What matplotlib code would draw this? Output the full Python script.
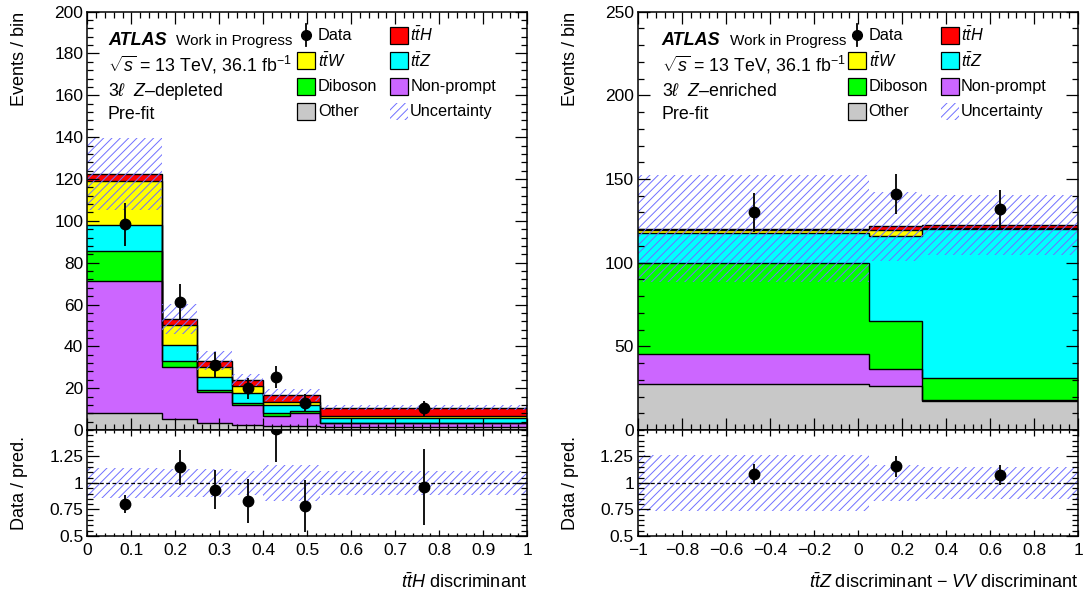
import matplotlib
matplotlib.use('Agg')
import matplotlib.pyplot as plt
import numpy as np
from matplotlib.patches import Rectangle
from matplotlib.ticker import MultipleLocator, FuncFormatter

plt.rcParams['font.family'] = ['Liberation Sans', 'DejaVu Sans']
plt.rcParams['mathtext.fontset'] = 'custom'
plt.rcParams['mathtext.rm'] = 'Liberation Sans'
plt.rcParams['mathtext.it'] = 'Liberation Sans:italic'
plt.rcParams['mathtext.bf'] = 'Liberation Sans:bold'
plt.rcParams['hatch.linewidth'] = 0.7

# 3l Z-depleted region (left)
edges_dep = [0, 0.17, 0.25, 0.33, 0.40, 0.46, 0.53, 1.0]
other_dep = [8.3, 5.1, 3.2, 2.4, 1.9, 1.9, 1.4]
nonprompt_dep = [63.0, 24.9, 15.1, 9.6, 4.8, 6.4, 1.8]
diboson_dep = [14.4, 3.2, 0.8, 1.1, 1.2, 0.8, 0.3]
ttz_dep = [12.1, 7.5, 6.1, 4.8, 4.1, 2.9, 2.4]
ttw_dep = [21.4, 9.3, 4.8, 3.3, 1.6, 1.6, 1.0]
tth_dep = [3.2, 3.2, 3.2, 2.8, 3.1, 3.1, 3.8]
unc_dep = [17.3, 7.2, 4.5, 2.8, 2.9, 2.9, 1.2]
data_dep = [98.4, 61.2, 31.1, 20.0, 25.2, 13.1, 10.3]
data_err_dep = [10.2, 8.8, 6.1, 5.0, 5.2, 4.1, 3.8]

# 3l Z-enriched region (right)
edges_enr = [-1, 0.05, 0.29, 1.0]
other_enr = [27.6, 26.2, 17.5]
nonprompt_enr = [17.7, 10.0, 0.2]
diboson_enr = [54.3, 28.8, 13.3]
ttz_enr = [18.1, 51.1, 89.3]
ttw_enr = [1.6, 3.2, 0.6]
tth_enr = [1.0, 2.4, 1.6]
unc_enr = [32.0, 20.5, 18.0]
data_enr = [130.0, 141.0, 132.0]
data_err_enr = [11.4, 12.2, 11.5]

c_other = '#c8c8c8'
c_np = '#cc66ff'
c_dib = '#00ff00'
c_ttz = '#00ffff'
c_ttw = '#ffff00'
c_tth = '#ff0000'
c_unc = '#7070ff'
plt.rcParams['hatch.color'] = c_unc


def fmt_tick(v, pos):
    s = '%g' % round(v, 3)
    return s.replace('-', '\u2212')


def style_axes(ax, xmaj, ymaj, xlen):
    ax.set_axisbelow(False)
    ax.xaxis.set_major_locator(MultipleLocator(xmaj))
    ax.xaxis.set_minor_locator(MultipleLocator(xmaj / 5))
    ax.yaxis.set_major_locator(MultipleLocator(ymaj))
    ax.yaxis.set_minor_locator(MultipleLocator(ymaj / 5))
    ax.tick_params(which='both', direction='in', top=True, right=True,
                   labelsize=12.5, width=0.9)
    ax.tick_params(axis='y', which='major', length=8.5, pad=3)
    ax.tick_params(axis='y', which='minor', length=4.5)
    ax.tick_params(axis='x', which='major', length=xlen, pad=5)
    ax.tick_params(axis='x', which='minor', length=xlen / 2)
    for sp in ax.spines.values():
        sp.set_linewidth(1.1)


def draw_legend(ax, x0):
    rows = [0.944, 0.883, 0.822, 0.762]
    bw, bh = 0.041, 0.041
    # data entry
    ax.plot([0.497], [rows[0]], 'o', color='k', ms=7, transform=ax.transAxes, clip_on=False)
    ax.plot([0.497, 0.497], [rows[0] - 0.026, rows[0] + 0.026], color='k', lw=1.3,
            transform=ax.transAxes, clip_on=False)
    ax.text(0.524, rows[0], 'Data', transform=ax.transAxes, va='center', size=11.7)
    col1 = [(r'$t\bar{t}W$', c_ttw), ('Diboson', c_dib), ('Other', c_other)]
    col2 = [(r'$t\bar{t}H$', c_tth), (r'$t\bar{t}Z$', c_ttz), ('Non-prompt', c_np)]
    for (lab, col), y in zip(col1, rows[1:]):
        ax.add_patch(Rectangle((0.477, y - bh / 2), bw, bh, facecolor=col, edgecolor='k',
                               lw=0.9, transform=ax.transAxes, clip_on=False))
        ax.text(0.524, y, lab, transform=ax.transAxes, va='center', size=11.7)
    for (lab, col), y in zip(col2, rows[:3]):
        ax.add_patch(Rectangle((0.689, y - bh / 2), bw, bh, facecolor=col, edgecolor='k',
                               lw=0.9, transform=ax.transAxes, clip_on=False))
        ax.text(0.734, y, lab, transform=ax.transAxes, va='center', size=11.7)
    ax.add_patch(Rectangle((0.689, rows[3] - bh / 2), bw, bh, facecolor='none', edgecolor=c_unc,
                           lw=0, hatch='////', transform=ax.transAxes, clip_on=False))
    ax.text(0.734, rows[3], 'Uncertainty', transform=ax.transAxes, va='center', size=11.7)

    ax.text(x0, 0.920, 'ATLAS', weight='bold', style='italic', size=13,
            transform=ax.transAxes, va='baseline')
    ax.text(x0 + 0.155, 0.920, 'Work in Progress', size=11,
            transform=ax.transAxes, va='baseline')


def draw_panel(ax, axr, edges, stack, unc, data, err, region, xlabel, xmaj, ymax, ymaj):
    edges = np.array(edges)
    centers = 0.5 * (edges[1:] + edges[:-1])
    colors = [c_other, c_np, c_dib, c_ttz, c_ttw, c_tth]
    bottom = np.zeros(len(centers))
    tops = []
    for vals, col in zip(stack, colors):
        top = bottom + np.array(vals)
        ax.stairs(top, edges, baseline=bottom, fill=True, facecolor=col, lw=0)
        tops.append(top)
        bottom = top
    for top in tops:
        ax.stairs(top, edges, baseline=None, color='k', lw=1.0)
    nom = bottom
    unc = np.array(unc)
    ax.stairs(nom + unc, edges, baseline=nom - unc, fill=True, facecolor='none',
              edgecolor=c_unc, hatch='////', lw=0, zorder=2.2)
    ax.errorbar(centers, data, yerr=err, fmt='o', color='k', ms=7.5, elinewidth=1.3,
                capsize=0, zorder=5)
    ax.set_xlim(edges[0], edges[-1])
    ax.set_ylim(0, ymax)
    style_axes(ax, xmaj, ymaj, 8.5)
    ax.tick_params(labelbottom=False)
    ax.set_ylabel('Events / bin', loc='top', fontsize=13)
    ax.yaxis.set_label_coords(-0.135, 1.0)

    x0 = 0.047 if edges[0] == 0 else 0.053
    draw_legend(ax, x0)
    ax.text(x0, 0.857, r'$\sqrt{s}$ = 13 TeV, 36.1 fb$^{-1}$', size=12.8,
            transform=ax.transAxes, va='baseline')
    ax.text(x0, 0.798, r'3$\ell$  $Z$' + '\u2013' + region, size=12.8,
            transform=ax.transAxes, va='baseline')
    ax.text(x0, 0.743, 'Pre-fit', size=12.8, transform=ax.transAxes, va='baseline')

    # ratio panel
    ratio = np.array(data) / nom
    rerr = np.array(err) / nom
    rband = unc / nom
    axr.stairs(1 + rband, edges, baseline=1 - rband, fill=True, facecolor='none',
               edgecolor=c_unc, hatch='////', lw=0)
    axr.axhline(1, color='k', ls='--', lw=0.9, dashes=(3, 2))
    axr.errorbar(centers, ratio, yerr=rerr, fmt='o', color='k', ms=7.5, elinewidth=1.3,
                 capsize=0, zorder=5)
    axr.set_xlim(edges[0], edges[-1])
    axr.set_ylim(0.5, 1.5)
    style_axes(axr, xmaj, 0.25, 4.5)
    axr.set_yticks([0.5, 0.75, 1, 1.25])
    axr.yaxis.set_major_formatter(FuncFormatter(fmt_tick))
    axr.xaxis.set_major_formatter(FuncFormatter(fmt_tick))
    axr.set_ylabel('Data / pred.', fontsize=13)
    axr.yaxis.set_label_coords(-0.135, 0.5)
    axr.set_xlabel(xlabel, fontsize=13, loc='right')
    axr.xaxis.set_label_coords(1.0, -0.49)
    axr.xaxis.label.set_va('baseline')


fig = plt.figure(figsize=(10.86, 5.95), dpi=100)
ax1 = fig.add_axes([0.0804, 0.2773, 0.405, 0.7031])
ax1r = fig.add_axes([0.0804, 0.0992, 0.405, 0.1781])
ax2 = fig.add_axes([0.5877, 0.2773, 0.405, 0.7031])
ax2r = fig.add_axes([0.5877, 0.0992, 0.405, 0.1781])

draw_panel(ax1, ax1r, edges_dep,
           [other_dep, nonprompt_dep, diboson_dep, ttz_dep, ttw_dep, tth_dep],
           unc_dep, data_dep, data_err_dep, 'depleted',
           r'$t\bar{t}H$ discriminant', 0.1, 200, 20)
draw_panel(ax2, ax2r, edges_enr,
           [other_enr, nonprompt_enr, diboson_enr, ttz_enr, ttw_enr, tth_enr],
           unc_enr, data_enr, data_err_enr, 'enriched',
           r'$t\bar{t}Z$ discriminant $-$ $VV$ discriminant', 0.2, 250, 50)

fig.savefig('out.png', dpi=100)
